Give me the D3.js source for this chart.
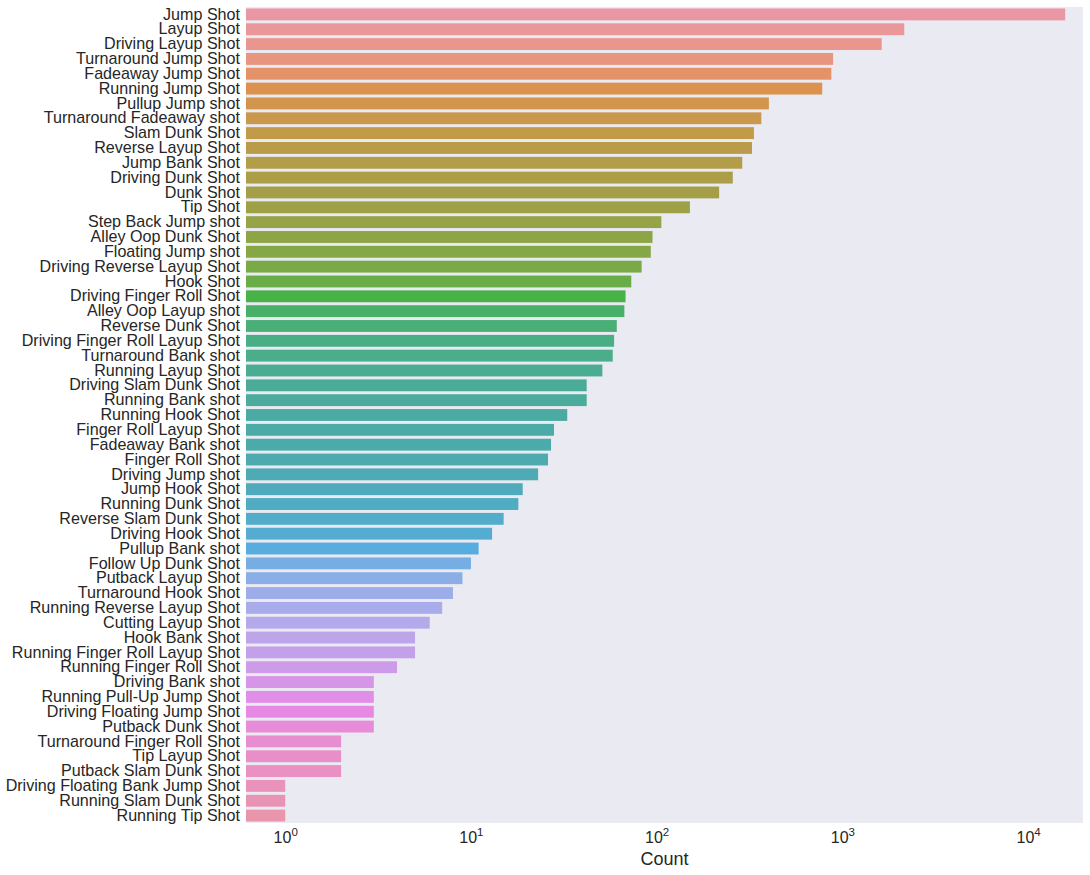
<!DOCTYPE html>
<html>
<head>
<meta charset="utf-8">
<script src="https://cdn.jsdelivr.net/npm/d3@7"></script>
<style>
  body { margin: 0; background: #fff; }
  svg { display: block; font-family: "Liberation Sans", Arial, sans-serif; }
</style>
</head>
<body>
<svg id="chart" width="1090" height="875"></svg>
<script>
const categories = [
  "Jump Shot", "Layup Shot", "Driving Layup Shot", "Turnaround Jump Shot", "Fadeaway Jump Shot",
  "Running Jump Shot", "Pullup Jump shot", "Turnaround Fadeaway shot", "Slam Dunk Shot", "Reverse Layup Shot",
  "Jump Bank Shot", "Driving Dunk Shot", "Dunk Shot", "Tip Shot", "Step Back Jump shot",
  "Alley Oop Dunk Shot", "Floating Jump shot", "Driving Reverse Layup Shot", "Hook Shot", "Driving Finger Roll Shot",
  "Alley Oop Layup shot", "Reverse Dunk Shot", "Driving Finger Roll Layup Shot", "Turnaround Bank shot", "Running Layup Shot",
  "Driving Slam Dunk Shot", "Running Bank shot", "Running Hook Shot", "Finger Roll Layup Shot", "Fadeaway Bank shot",
  "Finger Roll Shot", "Driving Jump shot", "Jump Hook Shot", "Running Dunk Shot", "Reverse Slam Dunk Shot",
  "Driving Hook Shot", "Pullup Bank shot", "Follow Up Dunk Shot", "Putback Layup Shot", "Turnaround Hook Shot",
  "Running Reverse Layup Shot", "Cutting Layup Shot", "Hook Bank Shot", "Running Finger Roll Layup Shot", "Running Finger Roll Shot",
  "Driving Bank shot", "Running Pull-Up Jump Shot", "Driving Floating Jump Shot", "Putback Dunk Shot", "Turnaround Finger Roll Shot",
  "Tip Layup Shot", "Putback Slam Dunk Shot", "Driving Floating Bank Jump Shot", "Running Slam Dunk Shot", "Running Tip Shot"
];
const counts = [
  15836, 2154, 1628, 891, 872,
  779, 402, 366, 334, 326,
  289, 257, 217, 151, 106,
  95, 93, 83, 73, 68,
  67, 61, 59, 58, 51,
  42, 42, 33, 28, 27,
  26, 23, 19, 18, 15,
  13, 11, 10, 9, 8,
  7, 6, 5, 5, 4,
  3, 3, 3, 3, 2,
  2, 2, 1, 1, 1
];
const tickValues = [1, 10, 100, 1000, 10000];
const tickExponents = ["0", "1", "2", "3", "4"];
const xLabel = "Count";

// ---- HUSL (HSLuv) palette as in seaborn ----
const M = [[3.2406, -1.5372, -0.4986], [-0.9689, 1.8758, 0.0415], [0.0557, -0.2040, 1.0570]];
const refU = 0.19784, refV = 0.46834, labE = 0.008856, labK = 903.3;
function maxChroma(L, H) {
  const hrad = H / 360 * 2 * Math.PI, sinH = Math.sin(hrad), cosH = Math.cos(hrad);
  const sub1 = Math.pow(L + 16, 3) / 1560896;
  const sub2 = sub1 > labE ? sub1 : L / labK;
  let result = Infinity;
  for (const [m1, m2, m3] of M) {
    const tp = (0.99915 * m1 + 1.05122 * m2 + 1.14460 * m3) * sub2;
    const rb = 0.86330 * m3 - 0.17266 * m2;
    const lb = 0.12949 * m3 - 0.38848 * m1;
    const bt = (rb * sinH + lb * cosH) * sub2;
    for (const t of [0, 1]) {
      const C = L * (tp - 1.05122 * t) / (bt + 0.17266 * sinH * t);
      if (C > 0 && C < result) result = C;
    }
  }
  return result;
}
function fInv(t) { return Math.pow(t, 3) > labE ? Math.pow(t, 3) : (116 * t - 16) / labK; }
function fromLinear(c) { return c <= 0.0031308 ? 12.92 * c : 1.055 * Math.pow(c, 1 / 2.4) - 0.055; }
function huslToRgb(H, S, L) {
  const C = maxChroma(L, H) / 100 * S;
  const hrad = H / 360 * 2 * Math.PI;
  const U = Math.cos(hrad) * C, V = Math.sin(hrad) * C;
  const varY = fInv((L + 16) / 116);
  const varU = U / (13 * L) + refU, varV = V / (13 * L) + refV;
  const Y = varY;
  const X = 0 - (9 * Y * varU) / ((varU - 4) * varV - varU * varV);
  const Z = (9 * Y - 15 * varV * Y - varV * X) / (3 * varV);
  return M.map(r => Math.min(1, Math.max(0, fromLinear(r[0] * X + r[1] * Y + r[2] * Z))));
}
function huslPalette(n, l) {
  const out = [];
  for (let i = 0; i < n; i++) {
    const h = ((i / n) + 0.01) % 1 * 359;
    const [r, g, b] = huslToRgb(h, 0.9 * 99, l * 99);
    const c = d3.hsl(d3.rgb(r * 255, g * 255, b * 255));
    c.s *= 0.75;
    out.push(c.formatHex());
  }
  return out;
}
const colors = huslPalette(categories.length, 0.7);

// ---- layout ----
const svg = d3.select("#chart");
const plotLeft = 246, plotRight = 1083, plotTop = 7, plotBottom = 823;

const x = d3.scaleLog().domain([0.615, 19750]).range([plotLeft, plotRight]);
const y = d3.scaleBand().domain(categories).range([plotTop, plotBottom]).paddingInner(0.2).paddingOuter(0.1);

svg.append("rect")
  .attr("x", plotLeft).attr("y", plotTop)
  .attr("width", plotRight - plotLeft).attr("height", plotBottom - plotTop)
  .attr("fill", "#EAEAF2");

svg.append("g").selectAll("rect")
  .data(categories)
  .join("rect")
  .attr("x", plotLeft)
  .attr("y", d => y(d))
  .attr("height", y.bandwidth())
  .attr("width", (d, i) => x(counts[i]) - plotLeft)
  .attr("fill", (d, i) => colors[i]);

// y axis labels
const yAxis = svg.append("g")
  .attr("transform", `translate(${plotLeft},0)`)
  .call(d3.axisLeft(y).tickSize(0).tickPadding(6));
yAxis.select(".domain").remove();
yAxis.selectAll("text")
  .attr("font-size", "16.1px")
  .attr("font-family", "Liberation Sans, Arial, sans-serif")
  .attr("fill", "#262626");

// x axis
const xAxis = svg.append("g")
  .attr("transform", `translate(0,${plotBottom})`)
  .call(d3.axisBottom(x).tickValues(tickValues).tickSize(0).tickFormat(""));
xAxis.select(".domain").remove();
xAxis.selectAll(".tick text").remove();
xAxis.selectAll(".tick").each(function(d, i) {
  const t = d3.select(this).append("text")
    .attr("y", 20)
    .attr("text-anchor", "middle")
    .attr("fill", "#262626")
    .attr("font-size", "16px")
    .attr("font-family", "Liberation Sans, Arial, sans-serif");
  t.append("tspan").text("10");
  t.append("tspan").attr("font-size", "11.5px").attr("dy", "-7").text(tickExponents[i]);
});

svg.append("text")
  .attr("x", (plotLeft + plotRight) / 2)
  .attr("y", 865)
  .attr("text-anchor", "middle")
  .attr("font-size", "18px")
  .attr("font-family", "Liberation Sans, Arial, sans-serif")
  .attr("fill", "#262626")
  .text(xLabel);
</script>
</body>
</html>
